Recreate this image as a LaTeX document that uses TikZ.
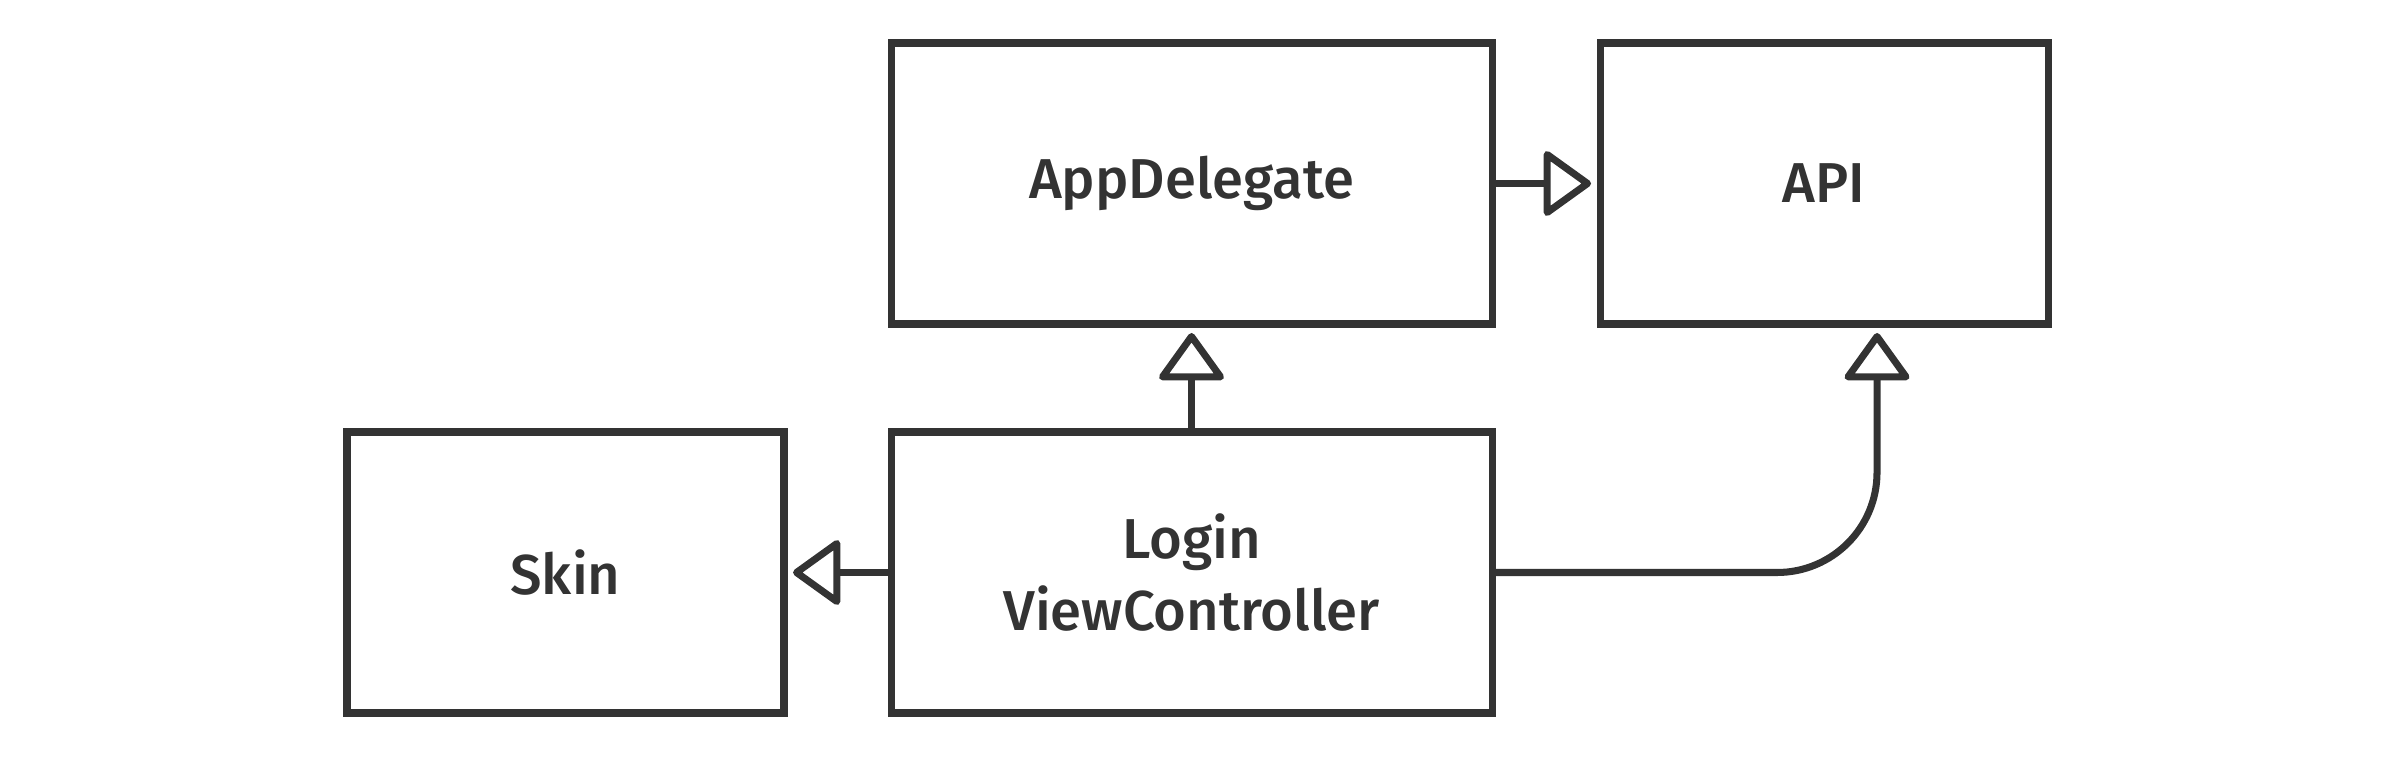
\documentclass[tikz,border=0pt]{standalone}
\usepackage{fontspec}
\setmainfont{Fira Sans Medium}
\usepackage{tikz}
\usetikzlibrary{positioning,arrows.meta}
\definecolor{ink}{HTML}{333333}
\tikzset{node distance=1.08cm, auto,
  box/.style={draw=ink, line width=2pt, outer sep=0pt, minimum height=2.81cm,
    align=center, text=ink, font=\fontsize{16}{20.5}\selectfont},
  inherit/.style={draw=ink, line width=2pt, shorten >=0.09cm,
    -{Triangle[open, length=5mm, width=7mm, round]}}}

\begin{document}
\begin{tikzpicture}
              \useasboundingbox (0,0) rectangle (24,7.56);
              \node (App) [box, minimum width=6.01cm] at (11.915,5.725) {AppDelegate};
              \node (API) [box, minimum width=4.48cm, right=of App] {API};
              \node (Login) [box, minimum width=6.01cm, below=of App] {Login\\ViewController};
              \node (Skin) [box, minimum width=4.37cm, left=1.07cm of Login] {Skin};

              \draw [inherit] (App) to (API);
              \draw [inherit] (Login) to (App);
              \draw [inherit] (Login) to (Skin);
              \draw [inherit, rounded corners=1cm] (Login.east) -| ([xshift=5.3mm]API.south);
            \end{tikzpicture}
\end{document}
